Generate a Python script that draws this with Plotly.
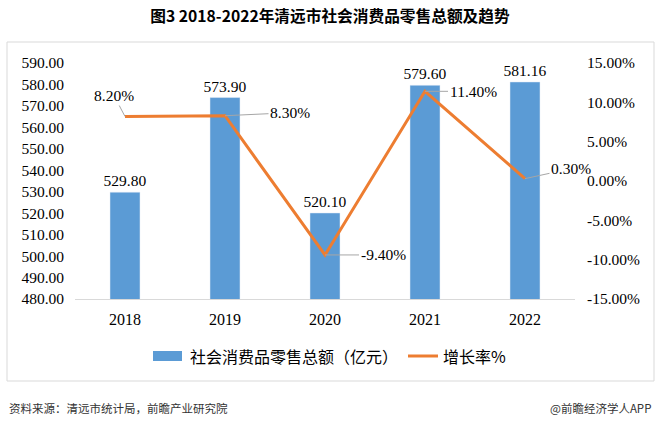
import plotly.graph_objects as go

# ---- data ----
years = ['2018', '2019', '2020', '2021', '2022']
retail_sales = [529.80, 573.90, 520.10, 579.60, 581.16]   # 亿元
growth_rate = [8.2, 8.3, -9.4, 11.4, 0.3]                  # %
left_ticks = [480, 490, 500, 510, 520, 530, 540, 550, 560, 570, 580, 590]
right_ticks = [-15, -10, -5, 0, 5, 10, 15]

bar_name = '社会消费品零售总额（亿元）'
line_name = '增长率%'
title_text = '图3 2018-2022年清远市社会消费品零售总额及趋势'
source_text = '资料来源：清远市统计局，前瞻产业研究院'
brand_text = '@前瞻经济学人APP'

# ---- style ----
BLUE = '#5B9BD5'
ORANGE = '#ED7D31'
GRID = '#D9D9D9'
LEADER = '#A6A6A6'
SERIF = 'Liberation Serif, Times New Roman, serif'
CJK = 'Noto Sans CJK SC, Microsoft YaHei, sans-serif'

W, H = 660, 428
L, R, T, B = 75, 575, 63, 299   # plot area pixel box


def px(x):
    return (x - L) / (R - L)


def py(y):
    return (B - y) / (B - T)


xpos = list(range(len(years)))

# label offsets (pixels) for growth labels
label_offsets = [(-11, -21), (65, -3), (58, 0), (48, 0), (46, -10)]

fig = go.Figure()
fig.add_trace(go.Bar(
    x=xpos, y=retail_sales, name=bar_name, marker_color=BLUE, width=0.3,
    texttemplate='%{y:.2f}', textposition='outside', cliponaxis=False,
    constraintext='none',
    textfont=dict(family=SERIF, size=15.5, color='#000000'),
    showlegend=False,
))
fig.add_trace(go.Scatter(
    x=xpos, y=growth_rate, name=line_name, yaxis='y2', mode='lines',
    line=dict(color=ORANGE, width=3), showlegend=False,
))

annotations = []
for xi, g, (ax, ay) in zip(xpos, growth_rate, label_offsets):
    annotations.append(dict(
        x=xi, y=g, xref='x', yref='y2', text=f'{g:.2f}%',
        showarrow=True, arrowhead=0, arrowwidth=1, arrowcolor=LEADER,
        ax=ax, ay=ay, standoff=0,
        font=dict(family=SERIF, size=15.5, color='#000000'),
    ))

# manual legend texts
annotations.append(dict(x=px(188), y=py(356), xref='paper', yref='paper',
                        text=bar_name, showarrow=False, xanchor='left', yanchor='middle',
                        font=dict(family=CJK, size=16, color='#000000')))
annotations.append(dict(x=px(441), y=py(356), xref='paper', yref='paper',
                        text=line_name, showarrow=False, xanchor='left', yanchor='middle',
                        font=dict(family=CJK, size=16, color='#000000')))
# footer
annotations.append(dict(x=px(7), y=py(408), xref='paper', yref='paper',
                        text=source_text, showarrow=False, xanchor='left', yanchor='middle',
                        font=dict(family=CJK, size=11.5, color='#333333')))
annotations.append(dict(x=px(653), y=py(408), xref='paper', yref='paper',
                        text=brand_text, showarrow=False, xanchor='right', yanchor='middle',
                        font=dict(family=CJK, size=11.5, color='#333333')))

shapes = [
    # outer chart border
    dict(type='rect', xref='paper', yref='paper', x0=px(7), x1=px(654), y0=py(381), y1=py(42),
         line=dict(color=GRID, width=1), fillcolor='rgba(0,0,0,0)', layer='below'),
    # legend keys
    dict(type='rect', xref='paper', yref='paper', x0=px(153), x1=px(182), y0=py(361), y1=py(351),
         line=dict(width=0), fillcolor=BLUE),
    dict(type='line', xref='paper', yref='paper', x0=px(408), x1=px(438), y0=py(356), y1=py(356),
         line=dict(color=ORANGE, width=3)),
]

fig.update_layout(
    width=W, height=H,
    margin=dict(l=L, r=W - R, t=T, b=H - B, pad=0),
    paper_bgcolor='white', plot_bgcolor='white',
    title=dict(text=f'<b>{title_text}</b>', x=0.5, xref='container', xanchor='center',
               y=1 - 17 / H, yref='container', yanchor='middle',
               font=dict(family=CJK, size=15.7, color='#000000')),
    xaxis=dict(range=[-0.5, len(years) - 0.5], tickvals=xpos, ticktext=years,
               showgrid=False, zeroline=False, showline=True, linecolor=GRID, linewidth=1,
               ticks='', tickfont=dict(family=SERIF, size=16, color='#000000'),
               ticklabelstandoff=6),
    yaxis=dict(range=[480, 590], tickvals=left_ticks, ticktext=[f'{v:.2f}' for v in left_ticks],
               showgrid=False, zeroline=False, showline=False, ticks='',
               tickfont=dict(family=SERIF, size=15.5, color='#000000'), ticklabelstandoff=10),
    yaxis2=dict(range=[-15, 15], tickvals=right_ticks,
                ticktext=[f'{v:.2f}%' for v in right_ticks],
                overlaying='y', side='right', showgrid=False, zeroline=False, showline=False,
                ticks='', tickfont=dict(family=SERIF, size=15.5, color='#000000'),
                ticklabelstandoff=11),
    annotations=annotations,
    shapes=shapes,
    showlegend=False,
)

fig.write_html('out.html', config={'displayModeBar': False},
               post_script="document.body.style.margin='0';document.body.style.overflow='hidden';")
